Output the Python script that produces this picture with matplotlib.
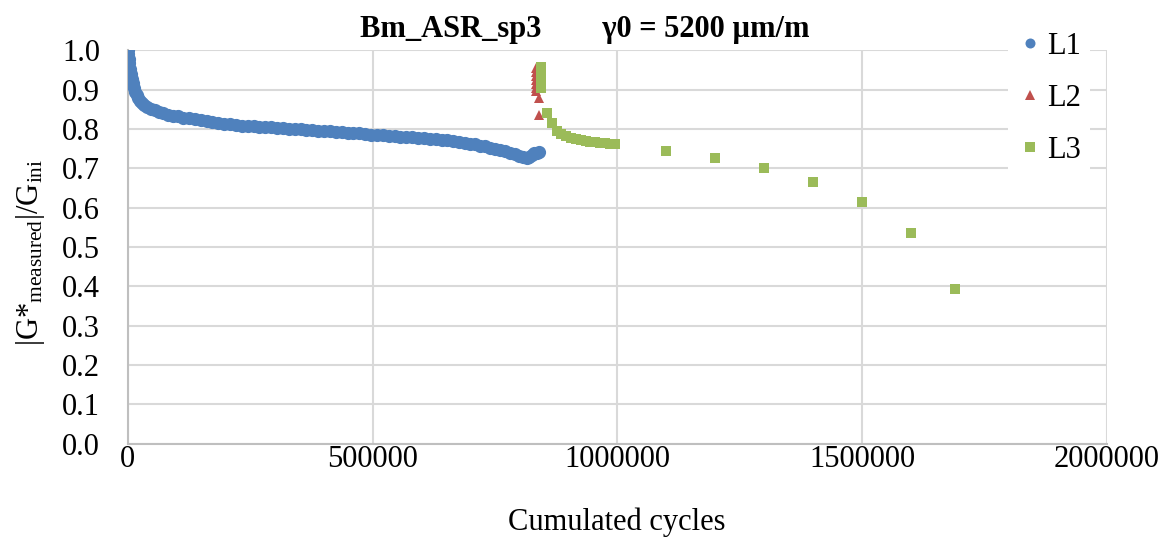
import matplotlib
matplotlib.use("Agg")
import matplotlib.pyplot as plt

# ---------------- data ----------------
l1_cycles = [0, 1000, 2000, 3000, 4500, 6000, 8000, 10000, 12500, 15000,
             18000, 21000, 25000, 29000, 34000, 40000, 47000, 55000, 63000, 72000,
             82000, 92000, 102000, 113000, 125000, 137000, 149000, 161000, 173000, 185000,
             197000, 209000, 221000, 233000, 245000, 257000, 269000, 281000, 293000, 305000,
             317000, 329000, 341000, 353000, 365000, 377000, 389000, 401000, 413000, 425000,
             437000, 449000, 461000, 473000, 485000, 497000, 509000, 521000, 533000, 545000,
             557000, 569000, 581000, 593000, 605000, 617000, 629000, 641000, 653000, 665000,
             677000, 689000, 700000, 710000, 720000, 730000, 740000, 750000, 760000, 770000,
             780000, 790000, 800000, 808000, 815000, 820000, 825000, 830000, 835000, 840000]
l1_values = [1.000, 0.990, 0.978, 0.968, 0.952, 0.940, 0.928, 0.916, 0.905, 0.895,
             0.886, 0.879, 0.872, 0.866, 0.861, 0.856, 0.852, 0.848, 0.844, 0.840,
             0.837, 0.834, 0.832, 0.829, 0.827, 0.825, 0.822, 0.820, 0.818, 0.816,
             0.814, 0.812, 0.810, 0.809, 0.808, 0.807, 0.806, 0.805, 0.804, 0.803,
             0.802, 0.801, 0.800, 0.799, 0.798, 0.797, 0.796, 0.795, 0.794, 0.793,
             0.792, 0.791, 0.790, 0.789, 0.788, 0.786, 0.785, 0.784, 0.783, 0.782,
             0.781, 0.780, 0.779, 0.778, 0.777, 0.775, 0.774, 0.772, 0.771, 0.769,
             0.767, 0.765, 0.763, 0.761, 0.758, 0.756, 0.753, 0.750, 0.747, 0.743,
             0.740, 0.736, 0.732, 0.729, 0.727, 0.728, 0.733, 0.738, 0.740, 0.741]

l2_cycles = [834000, 834000, 834000, 834000, 834000, 834000, 834000, 839000, 839000]
l2_values = [0.955, 0.945, 0.935, 0.925, 0.915, 0.905, 0.898, 0.879, 0.836]

l3_cycles = [845000, 845000, 845000, 845000, 845000, 856000, 866000, 876000, 885000, 895000,
             905000, 915000, 925000, 935000, 945000, 955000, 965000, 975000, 985000, 995000,
             1100000, 1200000, 1300000, 1400000, 1500000, 1600000, 1690000]
l3_values = [0.957, 0.945, 0.932, 0.918, 0.905, 0.840, 0.815, 0.795, 0.787, 0.782,
             0.778, 0.775, 0.772, 0.770, 0.768, 0.767, 0.765, 0.764, 0.763, 0.761,
             0.743, 0.726, 0.700, 0.665, 0.614, 0.536, 0.394]

series_names = ["L1", "L2", "L3"]
x_ticks = [0, 500000, 1000000, 1500000, 2000000]
y_ticks = [0.0, 0.1, 0.2, 0.3, 0.4, 0.5, 0.6, 0.7, 0.8, 0.9, 1.0]
title_text = "Bm_ASR_sp3        \u03b30 = 5200 \u00b5m/m"
x_label = "Cumulated cycles"
y_label = r"|G*$_{\mathrm{measured}}$|/G$_{\mathrm{ini}}$"

# ---------------- style ----------------
plt.rcParams["font.family"] = ["Liberation Serif", "DejaVu Serif"]
plt.rcParams["mathtext.fontset"] = "custom"
plt.rcParams["mathtext.rm"] = "Liberation Serif"
plt.rcParams["mathtext.it"] = "Liberation Serif:italic"
plt.rcParams["mathtext.bf"] = "Liberation Serif:bold"

W, H = 1174, 542
FS = 22
fig = plt.figure(figsize=(W / 100, H / 100), dpi=100)
ax = fig.add_axes([127.7 / W, 1 - 443.7 / H, (1107 - 127.7) / W, (443.7 - 50.4) / H])

ax.plot(l1_cycles, l1_values, linestyle="none", marker="o", markersize=9.5,
        color="#4f81bd", markeredgewidth=0, label=series_names[0], zorder=3)
ax.plot(l2_cycles, l2_values, linestyle="none", marker="^", markersize=7.4,
        color="#c0504d", markeredgewidth=0, label=series_names[1], zorder=4)
ax.plot(l3_cycles, l3_values, linestyle="none", marker="s", markersize=7.9,
        color="#9bbb59", markeredgewidth=0, label=series_names[2], zorder=5)

ax.set_xlim(0, 2000000)
ax.set_ylim(0, 1.0)
ax.set_xticks(x_ticks)
ax.set_xticklabels([str(v) for v in x_ticks])
ax.set_yticks(y_ticks)
ax.set_yticklabels([f"{v:.1f}" for v in y_ticks])
ax.tick_params(length=0, labelsize=FS)
ax.tick_params(axis="y", pad=20)
ax.tick_params(axis="x", pad=1)
ax.grid(True, color="#d9d9d9", linewidth=1.5)
ax.set_axisbelow(True)
for s in ["top", "right"]:
    ax.spines[s].set_visible(False)
for s in ["left", "bottom"]:
    ax.spines[s].set_color("#bfbfbf")
    ax.spines[s].set_linewidth(1.5)

fig.text(617 / W, 1 - 522 / H, x_label, ha="center", va="center", fontsize=FS)
fig.text(31 / W, 1 - 252 / H, y_label, ha="center", va="center", rotation=90, fontsize=FS)
fig.text(585 / W, 1 - 30 / H, title_text, ha="center", va="center",
         fontsize=FS, fontweight="bold")

leg = ax.legend(loc="upper left", bbox_to_anchor=(1008 / W, 1 - 22 / H),
                bbox_transform=fig.transFigure, borderaxespad=0,
                frameon=True, fontsize=FS, handletextpad=0.15, labelspacing=0.75,
                borderpad=0.32, handlelength=0.8)
leg.get_frame().set_edgecolor("none")
leg.get_frame().set_facecolor("white")
leg.get_frame().set_alpha(1.0)
leg.get_frame().set_boxstyle("square", pad=0)
leg.legend_handles[0].set_markersize(7.2)

fig.savefig("out.png", dpi=100)
